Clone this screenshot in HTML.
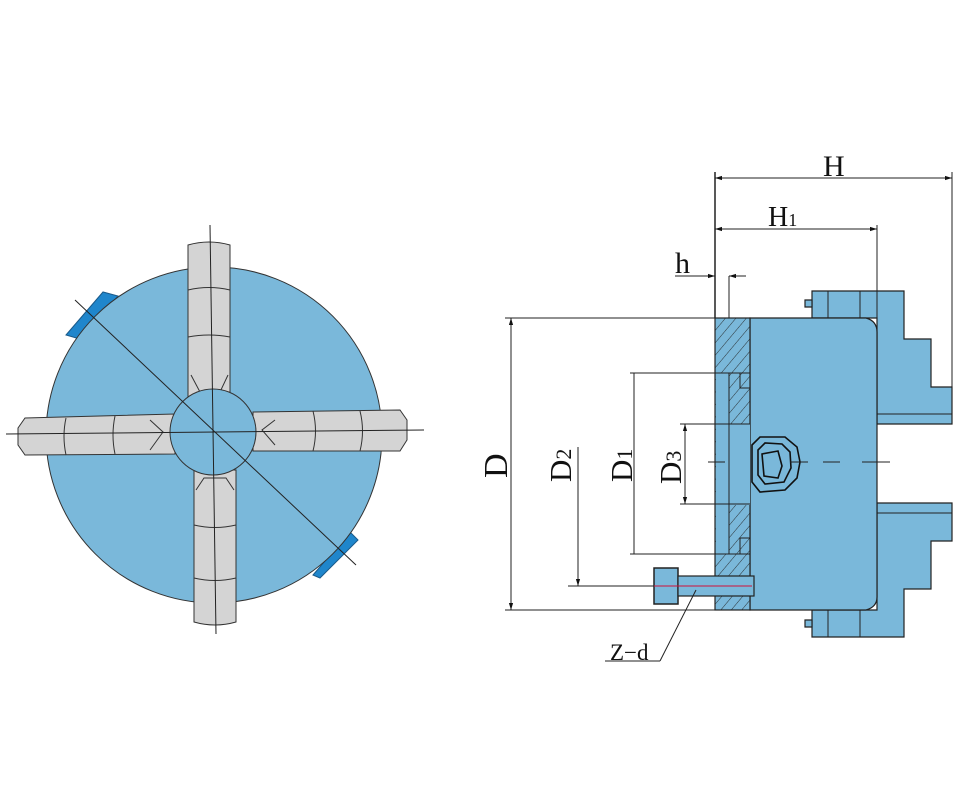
<!DOCTYPE html>
<html><head><meta charset="utf-8"><style>
html,body{margin:0;padding:0;background:#fff;}
svg{display:block;}
text{font-family:"Liberation Serif",serif;fill:#111;}
</style></head><body>
<svg width="980" height="800" viewBox="0 0 980 800" xmlns="http://www.w3.org/2000/svg">
<defs>
<pattern id="hatch" width="8" height="8" patternUnits="userSpaceOnUse" patternTransform="rotate(40)">
<rect width="8" height="8" fill="#7ab8da"/>
<line x1="0" y1="0" x2="0" y2="8" stroke="#222" stroke-width="0.9"/>
</pattern>
<marker id="ar" viewBox="0 0 10 10" refX="10" refY="5" markerWidth="12" markerHeight="7" orient="auto-start-reverse"><path d="M0,2 L10,5 L0,8 z" fill="#111"/></marker>
</defs>

<!-- LEFT VIEW -->
<path d="M66,335 L103,292 L118,296 L80,339 Z" fill="#1f86cc" stroke="#1a5a8a" stroke-width="1"/>
<path d="M313,575 L350,532 L358,540 L320,578 Z" fill="#1f86cc" stroke="#1a5a8a" stroke-width="1"/>
<circle cx="214" cy="435" r="168" fill="#7ab8da" stroke="#333" stroke-width="1"/>
<g fill="#d4d4d4" stroke="#333" stroke-width="1">
<path d="M188,245 Q209,239 230,245 L230,400 L188,400 Z"/>
<path d="M194,470 L236,470 L236,622 Q215,628 194,622 Z"/>
<path d="M25,418 L175,414 L175,454 L25,455 L18,445 L18,428 Z"/>
<path d="M253,412 L400,410 L407,420 L407,440 L400,451 L253,451 Z"/>
</g>
<g fill="none" stroke="#333" stroke-width="1">
<path d="M188,290 Q209,285 230,290 M188,337 Q209,333 230,337 M191,375 L200,392 L220,392 L228,375"/>
<path d="M194,525 Q215,530 236,525 M194,578 Q215,583 236,578 M196,490 L204,478 L226,478 L234,490"/>
<path d="M66,418 Q62,436 66,455 M115,416 Q111,435 115,454 M150,420 L163,432 L150,450"/>
<path d="M313,411 Q318,431 313,451 M360,411 Q365,431 360,451 M275,420 L262,430 L275,445"/>
</g>
<circle cx="213" cy="432" r="43" fill="#7ab8da" stroke="#333" stroke-width="1"/>
<g stroke="#222" stroke-width="1">
<line x1="210" y1="225" x2="216" y2="634"/>
<line x1="6" y1="434" x2="424" y2="430"/>
<line x1="75" y1="300" x2="356" y2="565"/>
</g>

<!-- RIGHT VIEW -->
<g fill="#7ab8da" stroke="#222" stroke-width="1.2">
<path d="M812,291 L904,291 L904,339 L931,339 L931,387 L952,387 L952,424 L877,424 L877,318 L812,318 Z"/>
<path d="M805,300 L812,300 L812,307 L805,307 Z"/>
<path d="M877,503 L952,503 L952,541 L931,541 L931,589 L904,589 L904,637 L812,637 L812,610 L877,610 Z"/>
<path d="M805,620 L812,620 L812,627 L805,627 Z"/>
</g>
<g stroke="#222" stroke-width="1">
<line x1="877" y1="414" x2="952" y2="414"/>
<line x1="877" y1="513" x2="952" y2="513"/>
<line x1="828" y1="291" x2="828" y2="318"/><line x1="860" y1="291" x2="860" y2="318"/>
<line x1="828" y1="610" x2="828" y2="637"/><line x1="860" y1="610" x2="860" y2="637"/>
</g>
<path d="M750,318 L866,318 Q877,321 877,332 L877,597 Q877,607 866,610 L750,610 Z" fill="#7ab8da" stroke="#222" stroke-width="1.2"/>
<rect x="715" y="318" width="35" height="292" fill="url(#hatch)" stroke="#222" stroke-width="1.2"/>
<rect x="716" y="373" width="13" height="181" fill="#7ab8da"/>
<rect x="729" y="424" width="21" height="81" fill="#7ab8da"/>
<g stroke="#222" stroke-width="1" fill="none">
<line x1="715" y1="373" x2="750" y2="373"/><line x1="715" y1="554" x2="750" y2="554"/>
<line x1="729" y1="373" x2="729" y2="554"/>
<line x1="715" y1="424" x2="750" y2="424"/><line x1="715" y1="504" x2="750" y2="504"/>
<path d="M740,373 L740,388 L750,388"/><path d="M740,554 L740,538 L750,538"/>
</g>
<rect x="654" y="568" width="24" height="36" fill="#7ab8da" stroke="#222" stroke-width="1.5"/>
<rect x="678" y="576" width="76" height="20" fill="#7ab8da" stroke="#222" stroke-width="1.2"/>
<line x1="640" y1="586" x2="752" y2="586" stroke="#d0103a" stroke-width="1"/>
<g fill="none" stroke="#111" stroke-width="1.6">
<path d="M752,445 L760,437 L785,437 L797,447 L800,462 L797,478 L785,490 L760,492 L752,482 Z"/>
<path d="M758,450 L765,443 L782,444 L790,452 L791,468 L784,482 L765,484 L758,475 Z"/>
<path d="M762,454 L778,451 L782,466 L778,478 L764,476 Z"/>
</g>
<g stroke="#222" stroke-width="1">
<line x1="708" y1="462" x2="725" y2="462"/>
<line x1="790" y1="462" x2="808" y2="462"/>
<line x1="823" y1="462" x2="840" y2="462"/>
<line x1="862" y1="462" x2="890" y2="462"/>
</g>

<g stroke="#222" stroke-width="1" fill="none">
<line x1="715" y1="172" x2="715" y2="318" stroke-width="1.5"/>
<line x1="952" y1="172" x2="952" y2="387"/>
<line x1="877" y1="225" x2="877" y2="318"/>
<line x1="729" y1="276" x2="729" y2="318"/>
<line x1="715" y1="178" x2="952" y2="178" marker-start="url(#ar)" marker-end="url(#ar)"/>
<line x1="715" y1="229" x2="877" y2="229" marker-start="url(#ar)" marker-end="url(#ar)"/>
<line x1="675" y1="276" x2="715" y2="276" marker-end="url(#ar)"/>
<line x1="746" y1="276" x2="729" y2="276" marker-end="url(#ar)"/>
<line x1="505" y1="318" x2="715" y2="318"/>
<line x1="505" y1="610" x2="715" y2="610"/>
<line x1="511" y1="318" x2="511" y2="610" marker-start="url(#ar)" marker-end="url(#ar)"/>
<line x1="630" y1="373" x2="715" y2="373"/>
<line x1="630" y1="554" x2="715" y2="554"/>
<line x1="634" y1="373" x2="634" y2="554"/>
<line x1="680" y1="424" x2="715" y2="424"/>
<line x1="680" y1="504" x2="715" y2="504"/>
<line x1="685" y1="424" x2="685" y2="504" marker-start="url(#ar)" marker-end="url(#ar)"/>
<line x1="568" y1="586" x2="654" y2="586"/>
<line x1="578" y1="447" x2="578" y2="586" marker-end="url(#ar)"/>
<line x1="605" y1="661" x2="660" y2="661"/>
<line x1="660" y1="661" x2="696" y2="590"/>
</g>
<text x="823" y="176" font-size="30">H</text>
<text x="768" y="226" font-size="28">H<tspan font-size="18">1</tspan></text>
<text x="675" y="273" font-size="30">h</text>
<text font-size="34" transform="translate(507,478) rotate(-90)">D</text>
<text font-size="31" transform="translate(571,482) rotate(-90)">D<tspan font-size="22">2</tspan></text>
<text font-size="31" transform="translate(632,482) rotate(-90)">D<tspan font-size="22">1</tspan></text>
<text font-size="31" transform="translate(681,484) rotate(-90)">D<tspan font-size="22">3</tspan></text>
<text x="610" y="660" font-size="23">Z−d</text>
</svg>
</body></html>
